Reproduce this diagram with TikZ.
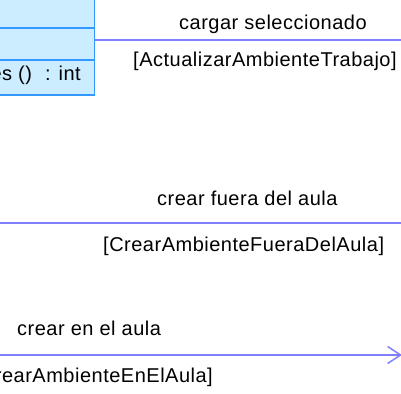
\documentclass[tikz,border=0pt]{standalone}
\usepackage{fontspec}
\setmainfont[LetterSpace=2.5]{Liberation Sans}
\usepackage{xcolor}
\usetikzlibrary{arrows.meta}

\definecolor{fondoclase}{RGB}{204,236,255}
\definecolor{bordeclase}{RGB}{51,153,255}
\definecolor{linea}{RGB}{128,128,255}

\tikzset{
  clase/.style={draw=bordeclase, fill=fondoclase, line width=1.5pt, inner sep=0pt},
  conector/.style={draw=linea, line width=1.5pt},
  etiqueta/.style={anchor=base west, inner sep=0pt, font=\fontsize{20}{24}\selectfont}
}

\begin{document}
\begin{tikzpicture}[x=1pt,y=-1pt]
\useasboundingbox (0,0) rectangle (401,393);
\clip (0,0) rectangle (401,393);

% Clase (cortada a la izquierda)
\node[clase, minimum width=160pt, minimum height=126pt, anchor=south east] (clase) at (95,96) {};
\draw[draw=bordeclase, line width=1.5pt] (clase.west |- 0,28) -- (clase.east |- 0,28);
\draw[draw=bordeclase, line width=1.5pt] (clase.west |- 0,60) -- (clase.east |- 0,60);
\node[etiqueta, anchor=base east] (metodo) at (81,80.5) {es ()\hspace{13pt}: int};

% Extremos de los conectores
\coordinate (destinoA) at (405,40);
\coordinate (origenB) at (-10,223);
\coordinate (destinoB) at (405,223);
\coordinate (origenC) at (-10,355);
\coordinate (destinoC) at (402,355);

% Conectores
\draw[conector] (clase.east |- 0,40) -- (destinoA);
\draw[conector] (origenB) -- (destinoB);
\draw[conector, -{Straight Barb[length=13pt, width=17pt]}] (origenC) -- (destinoC);

% Etiquetas
\node[etiqueta] (cargar) at (179,29.5) {cargar seleccionado};
\node[etiqueta] (guardaA) at (133,66.5) {[ActualizarAmbienteTrabajo]};
\node[etiqueta] (fuera) at (157,205) {crear fuera del aula};
\node[etiqueta] (guardaB) at (103,251) {[CrearAmbienteFueraDelAula]};
\node[etiqueta] (enaula) at (17,335) {crear en el aula};
\node[etiqueta, anchor=base east] (guardaC) at (213,382) {[CrearAmbienteEnElAula]};
\end{tikzpicture}
\end{document}
